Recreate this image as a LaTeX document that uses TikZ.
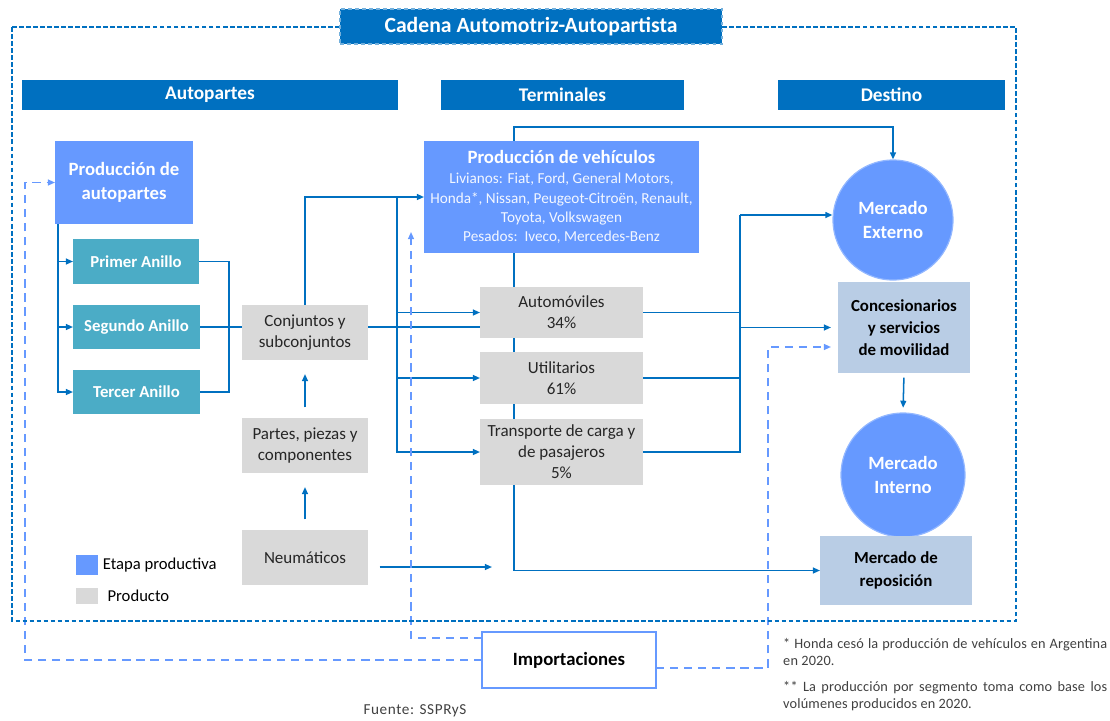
\documentclass[tikz,border=0pt]{standalone}
\usepackage{fontspec}
\setmainfont{Carlito}
\usetikzlibrary{arrows.meta,positioning,calc,backgrounds}

\definecolor{cadblue}{RGB}{0,112,192}
\definecolor{etapa}{RGB}{102,153,255}
\definecolor{anillo}{RGB}{75,172,198}
\definecolor{producto}{RGB}{217,217,217}
\definecolor{destino}{RGB}{185,205,229}
\definecolor{notegray}{RGB}{64,64,64}

\begin{document}
\begin{tikzpicture}[
  x=0.03cm, y=-0.03cm,
  >={Triangle[length=6pt,width=5pt]},
  font=\fontsize{14.5}{18}\selectfont,
  text centered,
  area/.style n args={4}{at={({(#1+#3)/2},{(#2+#4)/2})},
    minimum width={(#3-#1)*0.03cm}, minimum height={(#4-#2)*0.03cm},
    inner sep=0, outer sep=0, align=center},
  band/.style={fill=cadblue, text=white, font=\fontsize{16.5}{18}\selectfont\bfseries},
  stage/.style={fill=etapa, text=white, font=\fontsize{16}{20.5}\selectfont\bfseries},
  ring/.style={fill=anillo, text=white, font=\fontsize{14.3}{17}\selectfont\bfseries},
  prod/.style={fill=producto, text=black!85},
  dest/.style={fill=destino, text=black, font=\fontsize{14.4}{19}\selectfont\bfseries},
  market/.style={circle, fill=etapa, draw=etapa!70!white, line width=1pt, text=white, align=center,
    inner sep=0, font=\fontsize{16}{20.5}\selectfont\bfseries},
  flow/.style={draw=cadblue, line width=1.3pt},
  imp/.style={draw=etapa, line width=1.3pt, dash pattern=on 7pt off 5pt},
  gap/.style={shorten >=4pt, shorten <=4pt}
  ]

  \useasboundingbox (0,0) rectangle (1110,720);

  % frame and headings
  \draw[cadblue, line width=1.2pt, dash pattern=on 4pt off 2pt] (12,27) rectangle (1016,621);
  \node[area={340}{9}{722}{44}, fill=cadblue, draw=cadblue!55!white, dashed, line width=1pt, text=white,
    font=\fontsize{18.5}{20}\selectfont\bfseries] (title) {Cadena Automotriz-Autopartista};
  \node[area={22}{80}{398}{110}, band] (hAuto) {Autopartes};
  \node[area={441}{80}{684}{110}, band] (hTerm) {Terminales};
  \node[area={778}{80}{1005}{110}, band] (hDest) {Destino};

  % autopartes
  \node[area={55}{141}{193}{224}, stage] (prodap) {Producción de\\autopartes};
  \node[area={73}{239}{199}{284}, ring] (primer) {Primer Anillo};
  \node[area={73}{305}{200}{349}, ring] (segundo) {Segundo Anillo};
  \node[area={73}{370}{200}{414}, ring] (tercer) {Tercer Anillo};

  \node[area={242}{305}{368}{360}, prod] (conj) {Conjuntos y\\subconjuntos};
  \node[area={242}{418}{368}{473}, prod] (partes) {Partes, piezas y\\componentes};
  \node[area={242}{530}{368}{585}, prod] (neum) {Neumáticos};

  % terminales
  \node[area={424}{141}{699}{253}, stage, font=\fontsize{13}{16.5}\selectfont] (veh)
    {{\fontsize{16}{18}\selectfont\bfseries Producción de vehículos}\\[1pt]
     \color{white!92!etapa}Livianos: Fiat, Ford, General Motors,\\
     \color{white!92!etapa}Honda*, Nissan, Peugeot-Citroën, Renault,\\
     \color{white!92!etapa}Toyota, Volkswagen\\
     \color{white!92!etapa}Pesados:\ \ Iveco, Mercedes-Benz};
  \node[area={480}{287}{643}{338}, prod] (auto) {Automóviles\\34\%};
  \node[area={480}{352}{643}{404}, prod] (util) {Utilitarios\\61\%};
  \node[area={480}{419}{643}{485}, prod] (transp) {Transporte de carga y\\de pasajeros\\5\%};

  % destino
  \node[market, minimum size=120*0.03cm] (mext) at (893,220) {Mercado\\Externo};
  \node[area={838}{282}{970}{373}, dest] (conces) {Concesionarios\\y servicios\\de movilidad};
  \node[market, minimum size=124*0.03cm] (mint) at (903,475) {Mercado\\Interno};
  \node[area={820}{536}{972}{605}, dest] (repos) {Mercado de\\reposición};

  % importaciones
  \node[area={482}{632}{656}{688}, fill=white, draw=etapa, line width=2.2pt,
    font=\fontsize{16}{18}\selectfont\bfseries] (impo) {Importaciones};

  % legend
  \node[area={76}{555}{98}{575}, fill=etapa] (legE) {};
  \node[right=4pt of legE, inner sep=0, font=\fontsize{14.2}{16}\selectfont] (legEt) {Etapa productiva};
  \node[area={76}{588}{98}{604}, fill=producto] (legP) {};
  \node[right=8pt of legP, inner sep=0, font=\fontsize{14.2}{16}\selectfont] (legPt) {Producto};

  % helper points
  \coordinate (jA) at (229,327);
  \coordinate (br) at (397,198);
  \coordinate (spine) at (514,127);
  \coordinate (col) at (740,215);
  \coordinate (neuEnd) at (492,567);
  \coordinate (impL) at (25,0);
  \coordinate (impV) at (411,232);
  \coordinate (impR) at (768,347);

  \begin{scope}[on background layer]
  % autopartes flows
  \draw[flow,->] ($(prodap.south west)+(3,0)$) |- (primer.west);
  \draw[flow,->] ($(prodap.south west)+(3,0)$) |- (segundo.west);
  \draw[flow,->] ($(prodap.south west)+(3,0)$) |- (tercer.west);
  \draw[flow] (primer.east) -| (jA);
  \draw[flow] (tercer.east) -| (jA);
  \draw[flow] (segundo.east) -- (conj.west |- jA);
  \draw[flow,->,shorten >=12pt,shorten <=9pt] (partes.north) -- (conj.south);
  \draw[flow,->,shorten >=12pt,shorten <=9pt] (neum.north) -- (partes.south);

  % into terminales
  \draw[flow,->] (conj.north) |- (veh.west);
  \draw[flow,->] (br) |- (auto.west);
  \draw[flow,->] (br) |- (util.west);
  \draw[flow,->] (br) |- (transp.west);
  \draw[flow] (conj.east |- jA) -- (auto.west |- jA);
  \draw[flow,->,shorten <=10pt] (neum.east |- neuEnd) -- (neuEnd);

  % out of terminales
  \draw[flow,->] (veh.north -| spine) -- (spine) -| (mext.north);
  \draw[flow,->] (veh.south -| spine) |- (repos.west);
  \draw[flow] (auto.east) -| (col);
  \draw[flow] (util.east) -| (col);
  \draw[flow] (transp.east) -| (col);
  \draw[flow,->] (col) -- (col -| mext.west);
  \draw[flow,->,shorten >=6pt] (col |- conces.west) -- (conces.west);
  \draw[flow,->,gap] (conces.south) -- (mint.north);

  % importaciones flows
  \draw[imp,->] (impo.west) -| (impo.west -| impL) |- (prodap.west);
  \draw[imp,->] ($(impo.west)+(0,-22)$) -| (impV);
  \draw[imp,->,shorten >=6pt] ($(impo.east)+(0,8)$) -| (impR) -- (impR -| conces.west);
  \end{scope}

  % notes
  \node[inner sep=0, text=notegray, font=\fontsize{13}{15}\selectfont\addfontfeature{LetterSpace=4}] (fuente) at (415,711) {Fuente: SSPRyS};
  \node[anchor=north west, inner sep=0, text width=324*0.03cm, align=justify, text=notegray,
    font=\fontsize{12.2}{14.5}\selectfont\addfontfeature{LetterSpace=1}] (notes) at (783,638)
    {\hyphenpenalty=10000 * Honda cesó la producción de vehículos en Argentina en 2020.\par\vspace{8pt}
     ** La producción por segmento toma como base los volúmenes producidos en 2020.};
\end{tikzpicture}
\end{document}
